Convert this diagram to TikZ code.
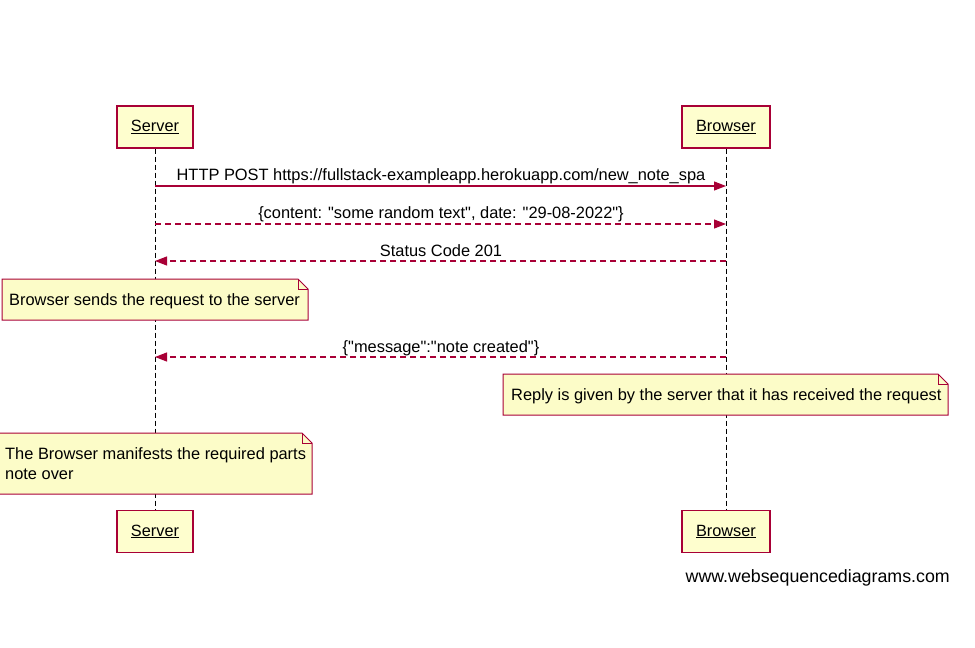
\documentclass[tikz,border=0pt]{standalone}
\usepackage{fontspec}
\setmainfont{Liberation Sans}[Ligatures=TeXOff]
\usetikzlibrary{arrows.meta,calc}
\pgfdeclarelayer{lifel}
\pgfdeclarelayer{notebg}
\pgfsetlayers{lifel,notebg,main}
\definecolor{umlred}{HTML}{A80036}
\definecolor{umlfill}{HTML}{FEFECE}
\definecolor{notefill}{HTML}{FCFCC8}
\tikzset{
  actorbox/.style={draw=umlred,fill=umlfill,line width=1.3pt,minimum width=76pt,minimum height=42pt,inner sep=0pt,font=\fontsize{16.3}{19}\selectfont},
  lifeline/.style={draw=black,line width=1pt,dash pattern=on 5pt off 3pt},
  msg/.style={draw=umlred,line width=1.1pt,-{Triangle[length=12pt,width=9pt]}},
  msgdash/.style={msg,dash pattern=on 6pt off 4pt},
  msglabel/.style={font=\fontsize{16.4}{19}\selectfont,inner sep=0pt,anchor=base},
  notetext/.style={font=\fontsize{16.4}{20}\selectfont,inner sep=0pt,anchor=base west,align=left},
  noteshape/.style={draw=umlred,fill=notefill,line width=1pt},
}
\newcommand{\notebox}[5]{% x1,y1,x2,y2,fold
  \begin{pgfonlayer}{notebg}
  \path[noteshape] (#1,#2) -- (#3-#5,#2) -- (#3,#2+#5) -- (#3,#4) -- (#1,#4) -- cycle;
  \path[draw=umlred,line width=1pt] (#3-#5,#2) -- (#3-#5,#2+#5) -- (#3,#2+#5);
  \end{pgfonlayer}}
\begin{document}
\begin{tikzpicture}[x=1pt,y=-1pt]
\useasboundingbox (0,0) rectangle (975,648);
% actors
\node[actorbox] (st) at (155,127) {\underline{Server}};
\node[actorbox,minimum width=88pt] (bt) at (726,127) {\underline{Browser}};
\node[actorbox] (sb) at (155,531.5) {\underline{Server}};
\node[actorbox,minimum width=88pt] (bb) at (726,531.5) {\underline{Browser}};
\begin{pgfonlayer}{lifel}
\draw[lifeline] (st.south) -- (sb.north);
\draw[lifeline] (bt.south) -- (bb.north);
\end{pgfonlayer}
% messages
\coordinate (s1) at (155,186); \coordinate (b1) at (726,186);
\coordinate (s2) at (155,224); \coordinate (b2) at (726,224);
\coordinate (s3) at (155,261); \coordinate (b3) at (726,261);
\coordinate (s4) at (155,357); \coordinate (b4) at (726,357);
\draw[msg] (s1) -- (b1);
\node[msglabel] (l1) at (441,180) {HTTP POST https://fullstack-exampleapp.herokuapp.com/new\_note\_spa};
\draw[msgdash] (s2) -- (b2);
\node[msglabel] (l2) at (441,218) {\{content: "some random text", date: "29-08-2022"\}};
\draw[msgdash] (b3) -- (s3);
\node[msglabel] (l3) at (441,256) {Status Code 201};
\draw[msgdash] (b4) -- (s4);
\node[msglabel] (l4) at (441,352) {\{"message":"note created"\}};
% notes
\notebox{2}{279}{308}{320}{10}
\node[notetext] (n1) at (9,305) {Browser sends the request to the server};
\notebox{503}{374}{948}{415}{10}
\node[notetext] (n2) at (511,400) {Reply is given by the server that it has received the request};
\notebox{-1}{433}{312}{494}{10}
\node[notetext] (n3a) at (5,459) {The Browser manifests the required parts};
\node[notetext] (n3b) at (5,479) {note over};
% watermark
\node[font=\fontsize{17.8}{20}\selectfont,inner sep=0pt,anchor=base east] (wm) at (950,582) {www.websequencediagrams.com};
\end{tikzpicture}
\end{document}
